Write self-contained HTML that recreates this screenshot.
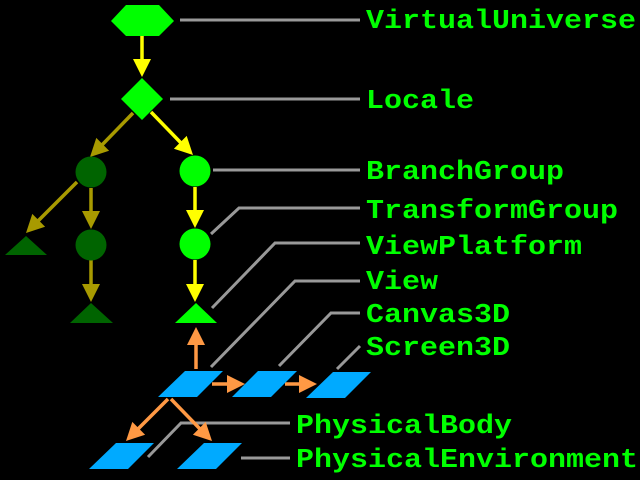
<!DOCTYPE html>
<html><head><style>html,body{margin:0;padding:0;background:#000}svg{display:block}</style></head>
<body>
<svg width="640" height="480" viewBox="0 0 640 480" xmlns="http://www.w3.org/2000/svg">
<g stroke="#999" stroke-width="3" fill="none">
<polyline points="180,20 360,20"/>
<polyline points="170,99 360,99"/>
<polyline points="213,170 360,170"/>
<polyline points="211,234 239,208 360,208"/>
<polyline points="212,308 275,243 360,243"/>
<polyline points="211,367 295,281 360,281"/>
<polyline points="279,366 331,313 360,313"/>
<polyline points="337,369 360,346"/>
<polyline points="148,457 181,423 290,423"/>
<polyline points="241,458 290,458"/>
</g>
<g stroke-width="3.5" fill="none">
<line x1="142" y1="36" x2="142" y2="61" stroke="#ffff00"/>
<line x1="151" y1="112" x2="182" y2="144" stroke="#ffff00"/>
<line x1="195" y1="187" x2="195" y2="212" stroke="#ffff00"/>
<line x1="195" y1="260" x2="195" y2="286" stroke="#ffff00"/>
<line x1="133" y1="113" x2="101" y2="146" stroke="#a89a00"/>
<line x1="77" y1="182" x2="37" y2="222" stroke="#a89a00"/>
<line x1="91" y1="188" x2="91" y2="213" stroke="#a89a00"/>
<line x1="91" y1="260" x2="91" y2="286" stroke="#a89a00"/>
<line x1="196" y1="369" x2="196" y2="343" stroke="#ff9944"/>
<line x1="212" y1="384" x2="229" y2="384" stroke="#ff9944"/>
<line x1="285" y1="384" x2="301" y2="384" stroke="#ff9944"/>
<line x1="168" y1="399" x2="137" y2="430" stroke="#ff9944"/>
<line x1="171" y1="399" x2="201" y2="430" stroke="#ff9944"/>
</g>
<g fill="#ffff00">
<polygon points="133,59 151,59 142,77"/>
<polygon points="186,210 204,210 195,228"/>
<polygon points="186,284 204,284 195,302"/>
<polygon points="173.9,148.7 186.7,135.9 193,155"/>
</g>
<g fill="#a89a00">
<polygon points="82,211 100,211 91,229"/>
<polygon points="82,284 100,284 91,302"/>
<polygon points="109.1,150.7 96.3,137.9 90,157"/>
<polygon points="45.1,226.7 32.3,213.9 26,233"/>
</g>
<g fill="#ff9944">
<polygon points="187,345 205,345 196,327"/>
<polygon points="227,375 227,393 245,384"/>
<polygon points="299,375 299,393 317,384"/>
<polygon points="145.1,434.7 132.3,421.9 126,441"/>
<polygon points="192.9,434.7 205.7,421.9 212,441"/>
</g>
<polygon points="111,21 126,5 159,5 174,21 159,36 126,36" fill="#00ff00"/>
<polygon points="142,78 163,99 142,120 121,99" fill="#00ff00"/>
<circle cx="91" cy="172" r="15.5" fill="#006400"/>
<circle cx="91" cy="245" r="15.5" fill="#006400"/>
<circle cx="195" cy="171" r="15.5" fill="#00ff00"/>
<circle cx="195" cy="244" r="15.5" fill="#00ff00"/>
<polygon points="5,255 26,236 47,255" fill="#006400"/>
<polygon points="70,323 91,303 113,323" fill="#006400"/>
<polygon points="175,323 196,303 217,323" fill="#00ff00"/>
<g fill="#00aaff">
<polygon points="158,397 185,371 223,371 197,397"/>
<polygon points="232,397 258,371 297,371 271,397"/>
<polygon points="306,398 333,372 371,372 345,398"/>
<polygon points="89,469 116,443 154,443 128,469"/>
<polygon points="177,469 204,443 242,443 216,469"/>
</g>
<g fill="#00ff00" font-family="Liberation Mono, monospace" font-weight="bold" font-size="27">
<text x="366" y="28" textLength="270" lengthAdjust="spacingAndGlyphs">VirtualUniverse</text>
<text x="366" y="108" textLength="108" lengthAdjust="spacingAndGlyphs">Locale</text>
<text x="366" y="179" textLength="198" lengthAdjust="spacingAndGlyphs">BranchGroup</text>
<text x="366" y="218" textLength="252" lengthAdjust="spacingAndGlyphs">TransformGroup</text>
<text x="366" y="254" textLength="216" lengthAdjust="spacingAndGlyphs">ViewPlatform</text>
<text x="366" y="289" textLength="72" lengthAdjust="spacingAndGlyphs">View</text>
<text x="366" y="322" textLength="144" lengthAdjust="spacingAndGlyphs">Canvas3D</text>
<text x="366" y="355" textLength="144" lengthAdjust="spacingAndGlyphs">Screen3D</text>
<text x="296" y="433" textLength="216" lengthAdjust="spacingAndGlyphs">PhysicalBody</text>
<text x="296" y="467" textLength="342" lengthAdjust="spacingAndGlyphs">PhysicalEnvironment</text>
</g>
</svg>
</body></html>
